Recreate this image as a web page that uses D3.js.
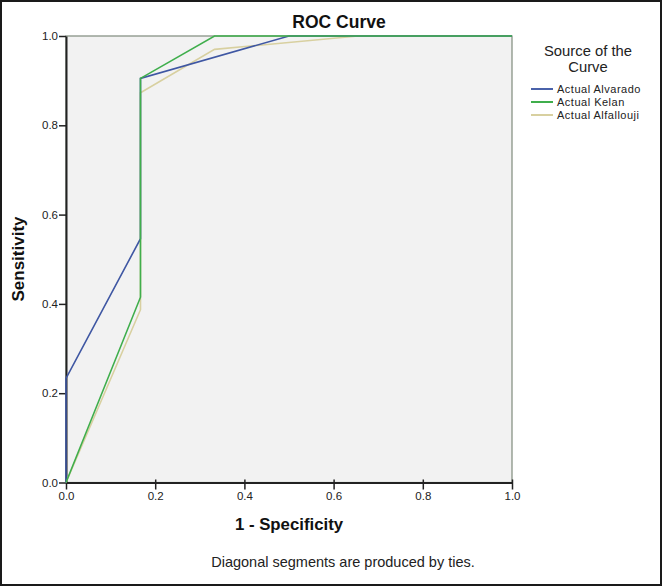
<!DOCTYPE html>
<html><head><meta charset="utf-8">
<script src="https://cdn.jsdelivr.net/npm/d3@7"></script>
<style>body{margin:0;background:#fff}svg{display:block;font-family:Arial,"Liberation Sans",sans-serif}</style>
</head><body>
<script>
const seriesNames = ["Actual Alvarado", "Actual Kelan", "Actual Alfallouji"];
const seriesColors = ["#4a62aa", "#3fae4c", "#d8d0a0"];
const alvaradoFpr = [0, 0, 0.167, 0.167, 0.5, 1];
const alvaradoTpr = [0, 0.233, 0.546, 0.905, 1, 1];
const kelanFpr = [0, 0.167, 0.167, 0.333, 1];
const kelanTpr = [0, 0.415, 0.905, 1, 1];
const alfaFpr = [0, 0.167, 0.167, 0.333, 0.655, 1];
const alfaTpr = [0, 0.387, 0.873, 0.97, 1, 1];
const tickValues = [0, 0.2, 0.4, 0.6, 0.8, 1.0];

const W = 662, H = 586;
const svg = d3.select("body").append("svg").attr("width", W).attr("height", H);
svg.append("rect").attr("x",1).attr("y",1).attr("width",W-2).attr("height",H-2)
  .attr("fill","#fff").attr("stroke","#1a1a1a").attr("stroke-width",2);

const x = d3.scaleLinear().domain([0,1]).range([66, 512]);
const y = d3.scaleLinear().domain([0,1]).range([482.5, 36]);

svg.append("rect").attr("x",x(0)).attr("y",y(1)).attr("width",x(1)-x(0)).attr("height",y(0)-y(1))
  .attr("fill","#f2f2f2").attr("stroke","#7f8a7c").attr("stroke-width",1.2);

const xAxis = svg.append("g").attr("transform",`translate(0,${y(0)})`)
  .call(d3.axisBottom(x).tickValues(tickValues).tickFormat(d3.format(".1f")).tickSize(7).tickSizeOuter(0));
const yAxis = svg.append("g").attr("transform",`translate(${x(0)},0)`)
  .call(d3.axisLeft(y).tickValues(tickValues).tickFormat(d3.format(".1f")).tickSize(7).tickSizeOuter(0));
[xAxis,yAxis].forEach(a=>{
  a.select(".domain").attr("stroke","#222").attr("stroke-width",2);
  a.selectAll(".tick line").attr("stroke","#222").attr("stroke-width",1.5);
  a.selectAll(".tick text").attr("fill","#222").attr("font-size",11.5).attr("font-family","Arial, Liberation Sans, sans-serif");
});
xAxis.selectAll(".tick line").attr("y1",-3);
yAxis.selectAll(".tick text").attr("x",-8);
xAxis.selectAll(".tick text").attr("y",9);

const series = [
  {fpr: alvaradoFpr, tpr: alvaradoTpr},
  {fpr: kelanFpr, tpr: kelanTpr},
  {fpr: alfaFpr, tpr: alfaTpr}
];
const line = d3.line().x(d=>x(d[0])).y(d=>y(d[1]));
[2,0,1].forEach(i=>{
  const pts = series[i].fpr.map((f,j)=>[f, series[i].tpr[j]]);
  svg.append("path").datum(pts).attr("d", line).attr("fill","none")
    .attr("stroke", i===0 ? "#3f57a3" : seriesColors[i]).attr("stroke-width",1.6);
});

svg.append("text").attr("x",339).attr("y",28).attr("text-anchor","middle")
  .attr("font-size",17.5).attr("font-weight","bold").attr("fill","#111").text("ROC Curve");
svg.append("text").attr("x",289).attr("y",530).attr("text-anchor","middle")
  .attr("font-size",16.8).attr("font-weight","bold").attr("fill","#111").text("1 - Specificity");
svg.append("text").attr("transform","translate(24,259) rotate(-90)").attr("text-anchor","middle")
  .attr("font-size",17).attr("font-weight","bold").attr("fill","#111").text("Sensitivity");
svg.append("text").attr("x",343).attr("y",567).attr("text-anchor","middle")
  .attr("font-size",14.5).attr("fill","#222").text("Diagonal segments are produced by ties.");

svg.append("text").attr("x",588).attr("y",56).attr("text-anchor","middle")
  .attr("font-size",14.8).attr("fill","#222").text("Source of the");
svg.append("text").attr("x",588).attr("y",72).attr("text-anchor","middle")
  .attr("font-size",14.8).attr("fill","#222").text("Curve");
seriesNames.forEach((n,i)=>{
  const yy = 89 + i*13;
  svg.append("line").attr("x1",531).attr("x2",553).attr("y1",yy).attr("y2",yy)
    .attr("stroke",seriesColors[i]).attr("stroke-width",2);
  svg.append("text").attr("x",557).attr("y",yy+4).attr("font-size",11)
    .attr("letter-spacing",0.5).attr("fill","#222").text(n);
});
</script>
</body></html>
